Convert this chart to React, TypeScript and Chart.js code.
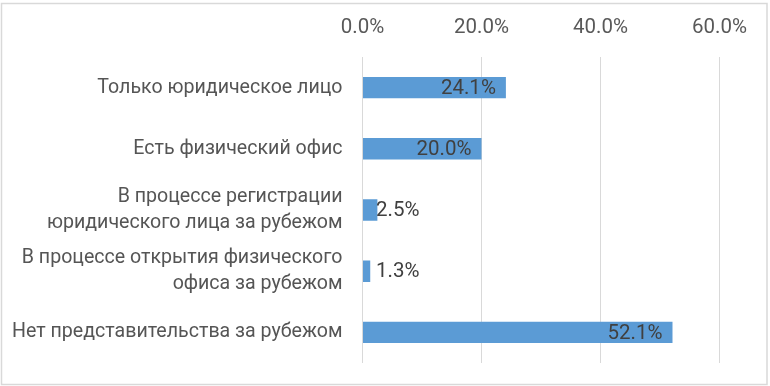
import React, { useEffect, useRef } from "react";
import { Chart, registerables } from "chart.js";

Chart.register(...registerables);

const categories: (string | string[])[] = [
  "Только юридическое лицо",
  "Есть физический офис",
  ["В процессе регистрации", "юридического лица за рубежом"],
  ["В процессе открытия физического", "офиса за рубежом"],
  "Нет представительства за рубежом",
];
const values = [24.1, 20.0, 2.5, 1.3, 52.1];
const axisMin = 0;
const axisMax = 60;
const axisStep = 20;

const FONT = "Roboto, 'Noto Sans', sans-serif";
const CAT_SIZE = 19.6;
const NUM_SIZE = 20.5;

const fmt = (v: number) => v.toFixed(1) + "%";

const framePlugin = {
  id: "frame",
  beforeDraw(chart: any) {
    const { ctx, width, height } = chart;
    ctx.save();
    ctx.fillStyle = "#ffffff";
    ctx.fillRect(0, 0, width, height);
    ctx.strokeStyle = "#d9d9d9";
    ctx.lineWidth = 1.5;
    ctx.strokeRect(1.5, 3.5, width - 4.5, height - 5);
    ctx.restore();
  },
};

const labelPlugin = {
  id: "barLabels",
  afterDatasetsDraw(chart: any) {
    const { ctx } = chart;
    const meta = chart.getDatasetMeta(0);
    const data = chart.data.datasets[0].data as number[];
    ctx.save();
    ctx.font = `${NUM_SIZE}px ${FONT}`;
    ctx.fillStyle = "#404040";
    ctx.textBaseline = "middle";
    meta.data.forEach((bar: any, i: number) => {
      const text = fmt(data[i]);
      const w = ctx.measureText(text).width;
      const barW = bar.x - bar.base;
      if (w + 14 <= barW) {
        ctx.textAlign = "right";
        ctx.fillText(text, bar.x - 10, bar.y + 1);
      } else {
        ctx.textAlign = "left";
        ctx.fillText(text, bar.base + 13, bar.y + 1);
      }
    });
    ctx.restore();
  },
};

export default function App() {
  const ref = useRef<HTMLCanvasElement | null>(null);

  useEffect(() => {
    if (!ref.current) return;
    const chart = new Chart(ref.current, {
      type: "bar",
      data: {
        labels: categories as any,
        datasets: [
          {
            data: values,
            backgroundColor: "#5b9bd5",
            borderWidth: 0,
            barPercentage: 0.35,
            categoryPercentage: 1,
          },
        ],
      },
      plugins: [framePlugin, labelPlugin],
      options: {
        indexAxis: "y",
        responsive: false,
        animation: false,
        devicePixelRatio: 1,
        layout: { padding: { top: 0, left: 0, right: 50.5, bottom: 23 } },
        plugins: {
          legend: { display: false },
          tooltip: { enabled: false },
        },
        scales: {
          x: {
            position: "top",
            min: axisMin,
            max: axisMax,
            afterFit(scale: any) {
              scale.height = 57;
              scale.paddingLeft = 0;
              scale.paddingRight = 0;
            },
            ticks: {
              stepSize: axisStep,
              padding: 17,
              color: "#595959",
              font: { family: FONT, size: NUM_SIZE, lineHeight: 1.2 },
              callback: (v: any) => fmt(Number(v)),
              maxRotation: 0,
            },
            grid: { color: "#d9d9d9", drawTicks: false, lineWidth: 1 },
            border: { display: false },
          },
          y: {
            afterFit(scale: any) {
              scale.width = 362.5;
              scale.paddingTop = 0;
              scale.paddingBottom = 0;
            },
            ticks: {
              padding: 20,
              color: "#555555",
              font: { family: FONT, size: CAT_SIZE, lineHeight: 1.32 },
            },
            grid: { display: false, drawTicks: false },
            border: { display: false },
          },
        },
      },
    });
    return () => chart.destroy();
  }, []);

  return (
    <div style={{ position: "absolute", left: 0, top: 0, width: 770, height: 386 }}>
      <canvas ref={ref} width={770} height={386} style={{ display: "block" }} />
    </div>
  );
}
